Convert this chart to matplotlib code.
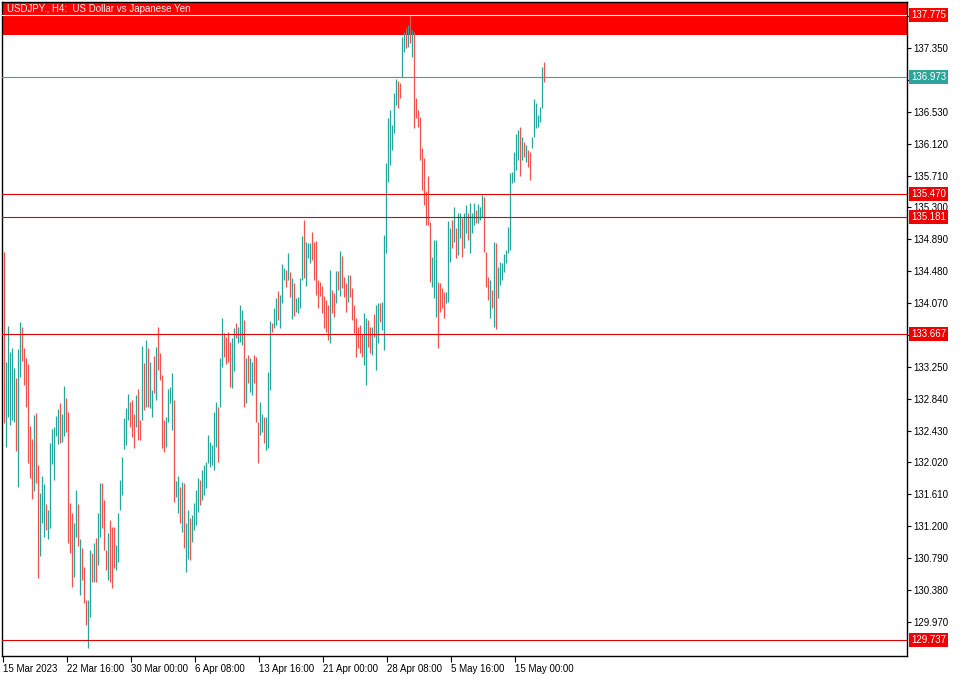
import numpy as np
import matplotlib
matplotlib.use('Agg')
import matplotlib.pyplot as plt
import matplotlib.transforms as mtransforms

plt.rcParams['font.family'] = ['Liberation Sans', 'DejaVu Sans']
plt.rcParams['font.size'] = 7

# USDJPY H4 bars (high / low, direction u=up d=down)
highs = [
    134.73, 133.31, 133.78, 133.44, 133.49, 133.23, 133.11, 133.48, 133.83, 133.76,
    133.49, 133.36, 133.29, 132.49, 132.32, 132.63, 132.66, 131.99, 131.63, 131.85,
    131.74, 131.49, 131.41, 132.27, 132.45, 132.48, 132.62, 132.71, 132.78, 132.64,
    133.00, 132.85, 132.67, 131.50, 131.37, 131.24, 131.67, 131.49, 131.04, 130.92,
    130.68, 130.25, 130.25, 130.89, 130.86, 130.98, 131.05, 131.37, 131.76, 131.76,
    131.54, 130.89, 131.11, 131.28, 131.19, 131.19, 130.96, 131.37, 131.79, 132.09,
    132.59, 132.72, 132.90, 132.80, 132.82, 132.64, 132.89, 132.96, 132.57, 133.52,
    133.30, 133.60, 133.49, 133.31, 132.95, 133.39, 133.50, 133.76, 133.43, 133.14,
    132.57, 132.60, 132.96, 132.99, 133.17, 132.82, 131.78, 131.85, 131.70, 131.77,
    131.76, 131.24, 131.41, 131.31, 131.34, 131.50, 131.67, 131.82, 131.79, 131.92,
    131.99, 132.03, 132.37, 132.28, 132.24, 132.67, 132.80, 132.73, 133.36, 133.88,
    133.69, 133.63, 133.70, 133.57, 133.62, 133.75, 133.81, 133.76, 134.05, 133.98,
    133.85, 133.36, 133.40, 133.36, 133.31, 133.40, 133.38, 132.54, 132.80, 132.64,
    132.60, 132.60, 133.18, 133.84, 133.81, 134.01, 134.14, 134.23, 134.17, 134.57,
    134.52, 134.50, 134.71, 134.47, 134.39, 134.33, 134.14, 134.15, 134.39, 134.93,
    135.14, 134.86, 134.84, 134.84, 134.98, 134.86, 134.87, 134.37, 134.34, 134.29,
    134.16, 134.11, 134.05, 134.50, 134.24, 134.20, 134.48, 134.48, 134.74, 134.68,
    134.41, 134.33, 134.43, 134.43, 134.26, 134.05, 133.88, 133.76, 133.79, 133.67,
    133.94, 133.88, 133.85, 133.76, 133.76, 133.93, 134.05, 134.07, 134.07, 134.08,
    134.95, 135.87, 136.45, 136.55, 136.36, 136.77, 136.95, 136.93, 136.90, 137.49,
    137.56, 137.61, 137.65, 137.775, 137.58, 137.56, 136.71, 136.55, 136.46, 136.07,
    135.94, 135.51, 135.70, 135.11, 134.66, 134.88, 134.88, 134.34, 134.33, 134.26,
    134.21, 134.21, 135.13, 135.04, 135.14, 135.31, 135.04, 135.23, 135.23, 135.16,
    135.23, 135.33, 135.23, 135.36, 135.23, 135.36, 135.27, 135.34, 135.31, 135.46,
    135.43, 134.73, 134.41, 134.37, 134.24, 134.86, 134.84, 134.53, 134.60, 134.59,
    134.70, 134.75, 135.05, 135.74, 135.76, 136.01, 136.25, 136.30, 136.34, 136.21,
    136.14, 136.10, 136.04, 136.01, 136.21, 136.69, 136.64, 136.49, 136.59, 137.11,
    137.17,
]
lows = [
    132.53, 132.22, 132.60, 132.50, 132.57, 132.54, 132.17, 131.70, 133.12, 133.32,
    133.02, 132.73, 132.01, 131.82, 131.55, 131.65, 131.76, 130.53, 130.82, 131.24,
    131.06, 131.15, 131.04, 131.18, 132.00, 131.79, 132.36, 132.26, 132.27, 132.28,
    132.36, 132.41, 130.98, 130.86, 130.42, 130.55, 131.06, 130.95, 130.32, 130.51,
    130.21, 129.93, 129.63, 130.03, 130.48, 130.48, 130.48, 130.70, 131.06, 131.18,
    130.89, 130.64, 130.51, 130.48, 130.41, 130.66, 130.64, 130.74, 131.41, 131.60,
    132.19, 132.24, 132.57, 132.48, 132.35, 132.21, 132.48, 132.31, 132.31, 132.57,
    132.69, 132.73, 132.73, 132.72, 132.60, 132.91, 132.82, 133.21, 133.08, 132.21,
    132.15, 132.22, 132.54, 132.78, 132.44, 131.51, 131.58, 131.37, 131.24, 131.13,
    130.92, 130.61, 130.78, 130.77, 131.00, 131.15, 131.22, 131.38, 131.47, 131.54,
    131.60, 131.69, 132.01, 131.96, 131.99, 131.92, 132.22, 132.03, 132.73, 133.25,
    133.38, 133.29, 133.31, 132.99, 132.98, 133.20, 133.62, 133.56, 133.57, 133.53,
    132.73, 132.78, 133.04, 132.93, 132.89, 133.04, 132.54, 132.01, 132.37, 132.41,
    132.27, 132.18, 132.21, 132.95, 133.70, 133.75, 133.79, 133.85, 133.75, 134.07,
    134.37, 134.28, 134.37, 134.15, 133.87, 133.90, 133.96, 133.94, 134.01, 134.37,
    134.39, 134.29, 134.65, 134.59, 134.62, 134.37, 134.17, 134.01, 134.16, 133.94,
    133.75, 133.70, 133.60, 133.56, 133.94, 133.89, 134.07, 134.24, 134.16, 134.26,
    134.15, 133.96, 134.08, 134.15, 133.85, 133.69, 133.38, 133.49, 133.43, 133.38,
    133.27, 133.02, 133.50, 133.43, 133.40, 133.63, 133.21, 133.56, 133.83, 133.72,
    133.47, 134.71, 135.63, 135.85, 136.04, 136.26, 136.62, 136.58, 136.71, 136.98,
    137.30, 137.35, 137.36, 137.42, 137.24, 136.32, 136.45, 136.34, 135.91, 135.52,
    135.33, 135.07, 135.07, 134.34, 134.28, 134.14, 133.89, 133.49, 133.96, 134.01,
    133.88, 134.07, 134.08, 134.60, 134.78, 134.86, 134.65, 134.69, 134.91, 134.66,
    134.78, 134.97, 134.88, 134.71, 134.97, 135.07, 135.10, 135.10, 135.14, 135.18,
    134.73, 134.28, 134.11, 133.88, 134.01, 133.76, 133.74, 134.14, 134.30, 134.37,
    134.47, 134.59, 134.71, 134.75, 135.61, 135.63, 135.78, 135.91, 135.70, 135.91,
    135.95, 135.89, 135.82, 135.65, 136.07, 136.21, 136.32, 136.34, 136.40, 136.58,
    136.91,
]
dirs = ("duuuuuduud" "dddddudduu" "uduuuuuudu" "udddduudud" "dduududuud"
        "dduddduuuu" "uuuddduddu" "duduududdd" "duuuuduudu" "duuduuuudu"
        "uuuuuuuduu" "dddduuduuu" "duduuddduu" "duuuduuduu" "udududuuuu"
        "duuudddddd" "ddduddudud" "dduddddddd" "uudduduudu" "uuuuuuuddu"
        "udududdddd" "dddduuuddd" "duuududuud" "uuduuuduuu" "dddududuuu"
        "uuuuuuuudu" "dudduuuuuu" "d")

time_labels = ['15 Mar 2023', '22 Mar 16:00', '30 Mar 00:00', '6 Apr 08:00',
               '13 Apr 16:00', '21 Apr 00:00', '28 Apr 08:00', '5 May 16:00',
               '15 May 00:00']
bars_per_label = 32

# horizontal levels drawn on the chart
level_prices = [137.775, 136.973, 135.470, 135.181, 133.667, 129.737]
level_kinds = ['zone', 'bid', 'res', 'res', 'res', 'res']
zone_low, zone_high = 137.518, 138.2

title = 'USDJPY., H4:  US Dollar vs Japanese Yen'

bull_c = '#26a69a'
bear_c = '#ef5350'
line_red = '#e00000'

fig = plt.figure(figsize=(9.6, 6.75), dpi=100)
ax = fig.add_axes([2/960, 1 - 656/675, 905/960, 654/675])

n = len(highs)
x = np.arange(n)
colors = [bull_c if d == 'u' else bear_c for d in dirs]

ax.axhspan(zone_low, zone_high, color='#ff0000', lw=0, zorder=0.5)
ax.vlines(x, lows, highs, colors=colors, lw=0.9, zorder=2)

trans = mtransforms.blended_transform_factory(ax.transAxes, ax.transData)
for price, kind in zip(level_prices, level_kinds):
    if kind == 'zone':
        lc, bc = 'white', '#ff0000'
    elif kind == 'bid':
        lc, bc = '#3aa39b', '#2ea59a'
    else:
        lc, bc = line_red, '#ee0000'
    ax.axhline(price, color=lc, lw=0.8, zorder=3)
    ax.annotate('{:.3f}'.format(price), xy=(1, price), xycoords=trans,
                xytext=(3.0, 0), textcoords='offset points', va='center', ha='left',
                color='white', fontsize=7, annotation_clip=False, zorder=6,
                bbox=dict(boxstyle='square,pad=0.2', fc=bc, ec='none'))

ax.text(0.0055, 0.9895, title, transform=ax.transAxes, ha='left', va='center',
        color='#f4f4f4', fontsize=7, zorder=5)

ax.set_xlim(-1, 451.5)
ax.set_ylim(129.531, 137.942)

ax.yaxis.tick_right()
yt = np.round(np.arange(129.97, 137.8, 0.41), 3)
# price labels hidden behind a level box are not printed
ylabels = ['' if min(abs(v - p) for p in level_prices) < 0.06 else '{:.3f}'.format(v)
           for v in yt]
ax.set_yticks(yt)
ax.set_yticklabels(ylabels)
ax.tick_params(axis='y', direction='out', length=3, width=0.8, pad=1.5, labelsize=7)

xt = np.arange(len(time_labels)) * bars_per_label
ax.set_xticks(xt - 0.5)
ax.set_xticklabels(time_labels)
ax.tick_params(axis='x', direction='out', length=4, width=0.8, pad=1.5, labelsize=7)
for lab in ax.get_xticklabels():
    lab.set_ha('left')

for s in ax.spines.values():
    s.set_color('black')
    s.set_linewidth(1.0)

fig.savefig('out.png', dpi=100)
